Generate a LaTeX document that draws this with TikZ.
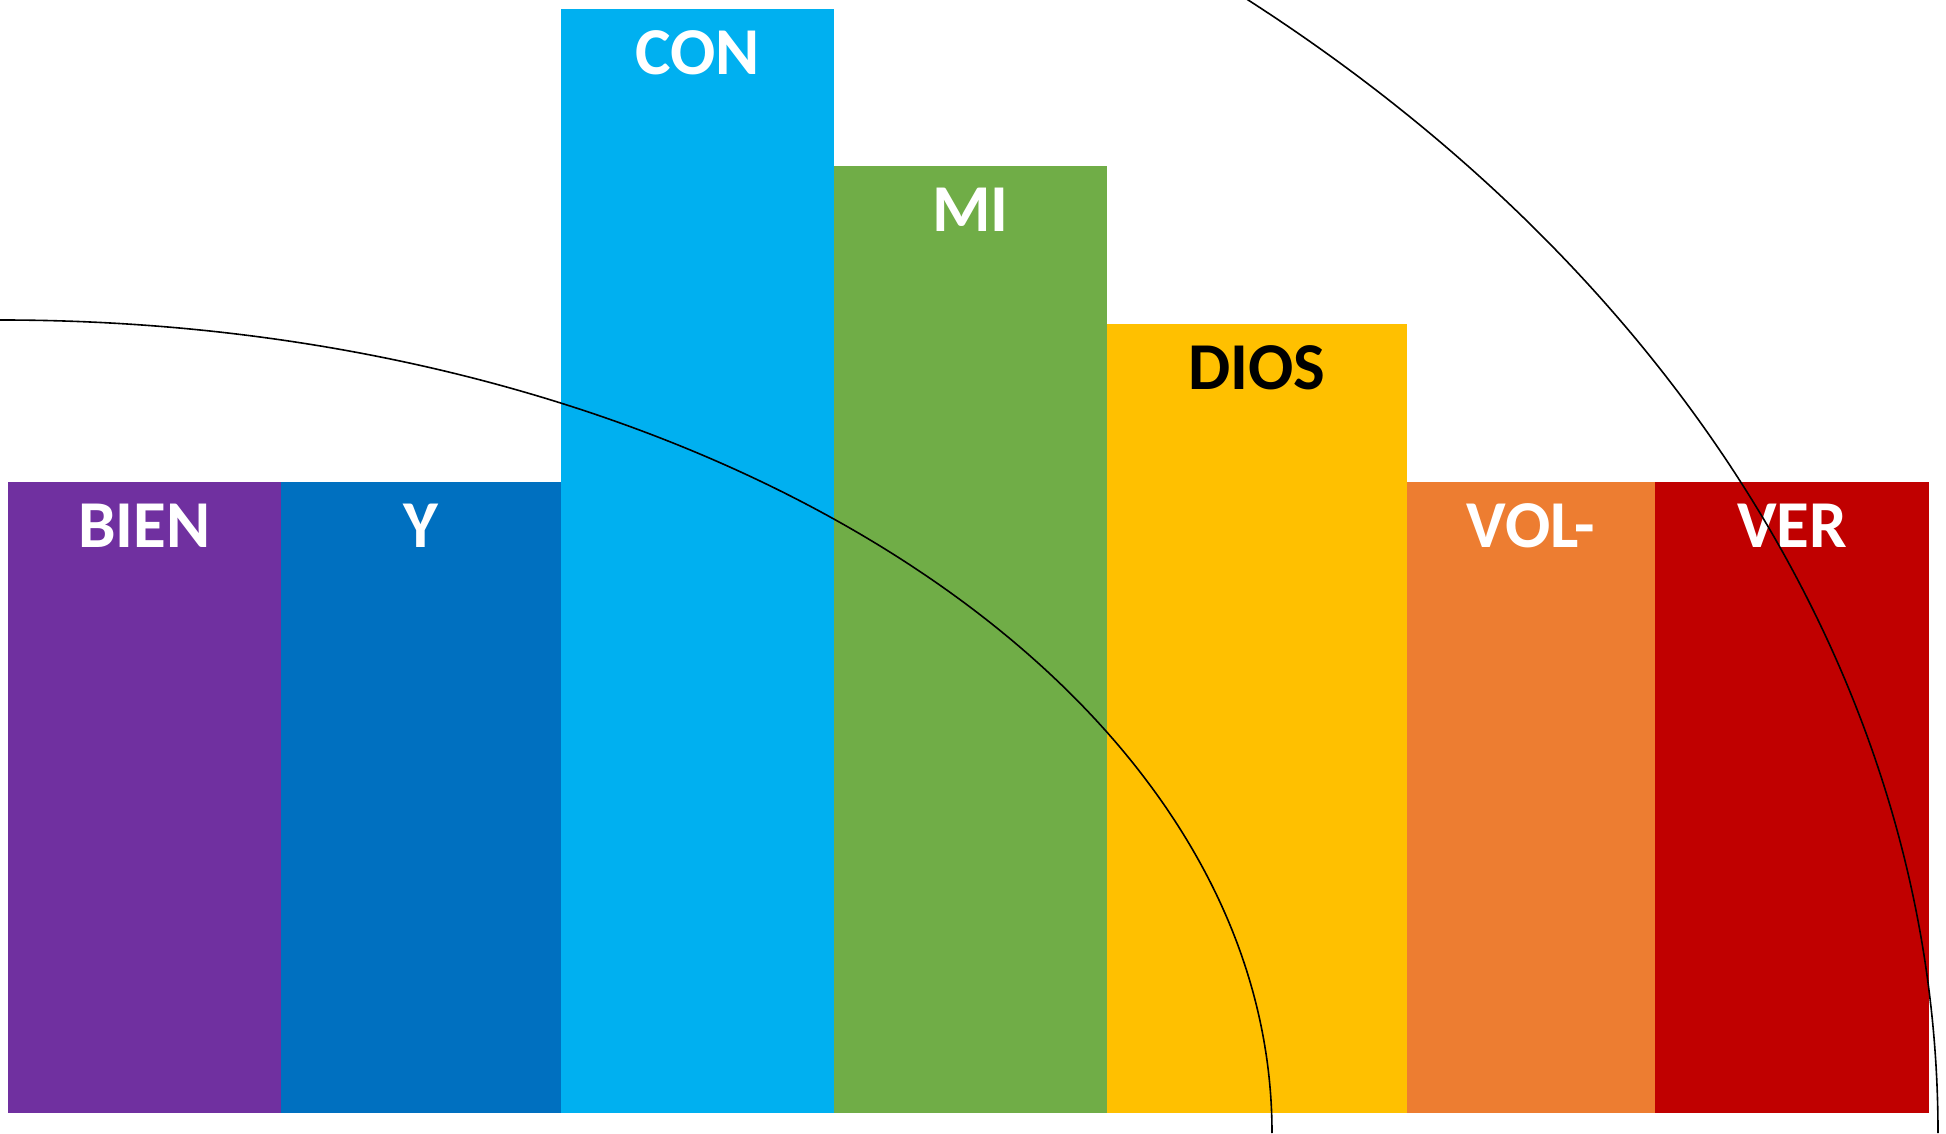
\documentclass[tikz,border=0pt]{standalone}
\usepackage{fontspec}
\setmainfont{Carlito}
\begin{document}
\begin{tikzpicture}[x=1pt,y=1pt,
  lbl/.style={anchor=base,inner sep=0pt,text=white,font=\bfseries\fontsize{67}{80}\selectfont},
  curve/.style={draw=black,line width=1.6pt}]
\definecolor{cpurple}{HTML}{7030A0}
\definecolor{cblue}{HTML}{0070C0}
\definecolor{ccyan}{HTML}{00B0F0}
\definecolor{cgreen}{HTML}{70AD47}
\definecolor{cyellow}{HTML}{FFC000}
\definecolor{corange}{HTML}{ED7D31}
\definecolor{cred}{HTML}{C00000}
\useasboundingbox (0,0) rectangle (1946,1133);
\clip (0,0) rectangle (1946,1133);
% bars
\fill[cpurple] (8,20) rectangle (281,651);
\fill[cblue] (281,20) rectangle (561,651);
\fill[ccyan] (561,20) rectangle (834,1124);
\fill[cgreen] (834,20) rectangle (1107,967);
\fill[cyellow] (1107,20) rectangle (1407,809);
\fill[corange] (1407,20) rectangle (1655,651);
\fill[cred] (1655,20) rectangle (1929,651);
% labels
\node[lbl] (bien) at (144.5,585) {BIEN};
\node[lbl] (y) at (421,585) {Y};
\node[lbl] (con) at (697.5,1058) {CON};
\node[lbl] (mi) at (970.5,901) {MI};
\node[lbl,text=black] (dios) at (1257,743) {DIOS};
\node[lbl] (vol) at (1531,585) {VOL-};
\node[lbl] (ver) at (1792,585) {VER};
% curves
\draw[curve] (0,813) arc[start angle=90,end angle=0,x radius=1272,y radius=813];
\draw[curve] (0,0) ++(55:1938 and 1481) arc[start angle=55,end angle=0,x radius=1938,y radius=1481];
\end{tikzpicture}
\end{document}
